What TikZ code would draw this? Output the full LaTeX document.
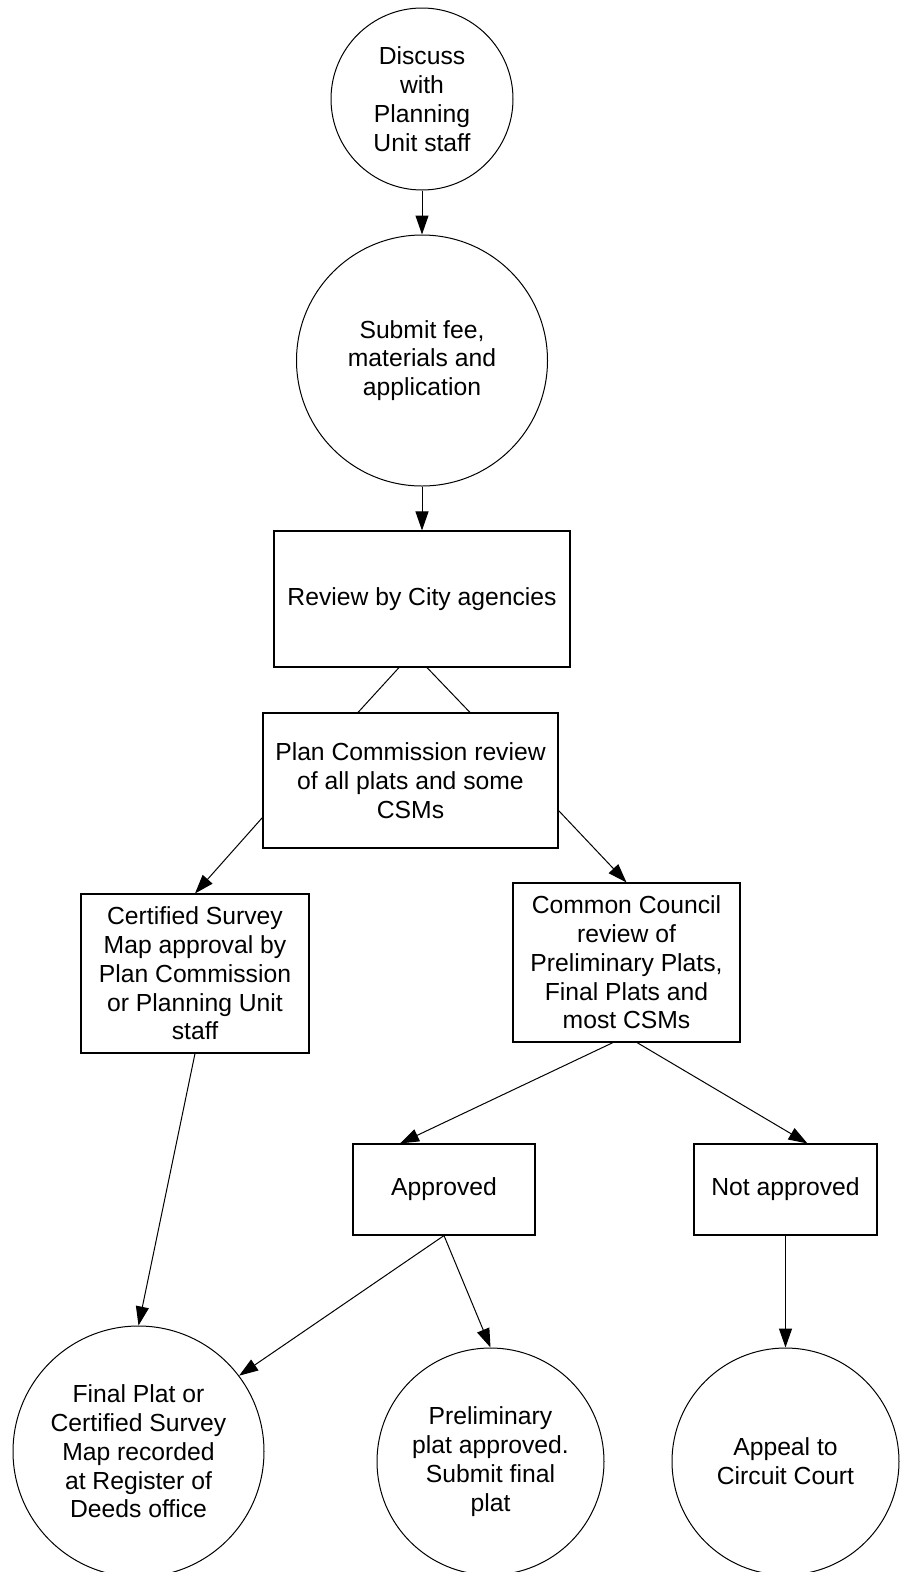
\documentclass[tikz,border=0pt]{standalone}
\usepackage{fontspec}
\setmainfont{Liberation Sans}
\usetikzlibrary{arrows.meta,calc}

\begin{document}
\begin{tikzpicture}[x=1pt,y=-1pt,
    tekst/.style={align=center,inner sep=0pt,font=\fontsize{24.7}{28.8}\selectfont},
    boks/.style={tekst,draw,line width=1.1pt},
    sirkel/.style={tekst,draw,circle,line width=1pt},
    pil/.style={-{Triangle[length=19pt,width=13pt]},line width=1pt}]
  \clip (0,0) rectangle (903,1572);
  % Start
  \node[sirkel,minimum size=182pt] (discuss) at (422,99) {Discuss\\with\\Planning\\Unit staff};
  \node[sirkel,minimum size=251pt] (submit) at (422,360.5) {Submit fee,\\materials and\\application};
  % Behandling
  \node[boks,minimum width=296pt,minimum height=136pt] (review) at (422,599) {Review by City agencies};
  \node[boks,minimum width=295pt,minimum height=135pt] (plan) at (410.5,780.5) {Plan Commission review\\of all plats and some\\CSMs};
  \node[boks,minimum width=228pt,minimum height=159pt] (csm) at (195,973.5) {Certified Survey\\Map approval by\\Plan Commission\\or Planning Unit\\staff};
  \node[boks,minimum width=227pt,minimum height=159pt] (council) at (626.5,962.5) {Common Council\\review of\\Preliminary Plats,\\Final Plats and\\most CSMs};
  \node[boks,minimum width=182pt,minimum height=91pt] (approved) at (444,1189.5) {Approved};
  \node[boks,minimum width=183pt,minimum height=91pt] (notapproved) at (785.5,1189.5) {Not approved};
  % Utfall
  \node[sirkel,minimum size=251pt] (recorded) at (138.5,1451.5) {Final Plat or\\Certified Survey\\Map recorded\\at Register of\\Deeds office};
  \node[sirkel,minimum size=227pt] (prelim) at (490.5,1461.5) {Preliminary\\plat approved.\\Submit final\\plat};
  \node[sirkel,minimum size=227pt] (appeal) at (785.5,1461.5) {Appeal to\\Circuit Court};
  % Piler
  \draw[pil] (discuss) -- (submit);
  \draw[pil] (submit) -- (review);
  \draw[line width=1pt] ($(review.south)+(-23,0)$) -- ($(plan.north)+(-52.5,0)$);
  \draw[line width=1pt] ($(review.south)+(5,0)$) -- ($(plan.north)+(59.5,0)$);
  \draw[pil] ($(plan.west)+(0,37)$) -- (csm.north);
  \draw[pil] ($(plan.east)+(0,30)$) -- (council.north);
  \draw[pil] ($(council.south)+(-13.5,0)$) -- ($(approved.north)+(-44,0)$);
  \draw[pil] ($(council.south)+(10.5,0)$) -- ($(notapproved.north)+(22,0)$);
  \draw[pil] (csm.south) -- (recorded.north);
  \draw[pil] (approved.south) -- (recorded.37);
  \draw[pil] (approved.south) -- (prelim.north);
  \draw[pil] (notapproved.south) -- (appeal.north);
\end{tikzpicture}
\end{document}
